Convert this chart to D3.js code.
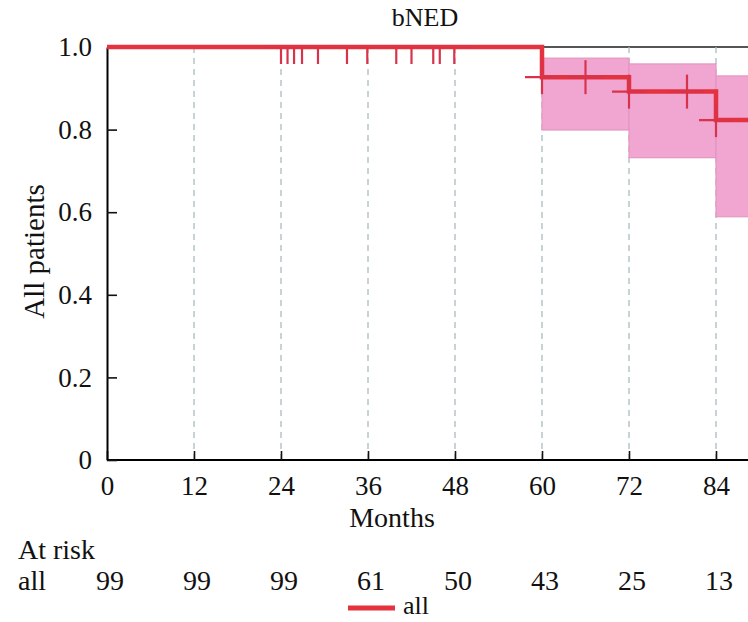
<!DOCTYPE html>
<html>
<head>
<meta charset="utf-8">
<script src="https://cdn.jsdelivr.net/npm/d3@7"></script>
<style>
  body { margin: 0; background: #fff; }
  svg text { font-family: 'Liberation Serif', 'Times New Roman', 'DejaVu Serif', serif; }
</style>
</head>
<body>
<script>
// KM curve for bNED, all patients
var stepMonths = [0, 60, 72, 84];
var stepSurv   = [1.0, 0.927, 0.892, 0.823];
var stepLower  = [1.0, 0.799, 0.732, 0.589];
var stepUpper  = [1.0, 0.973, 0.959, 0.930];
var censorMonths = [24.0, 24.9, 25.8, 26.9, 29.1, 33.1, 35.9, 39.9, 42.0, 45.0, 45.9, 47.9, 60, 66, 72, 80, 84];
var monthTicks = [0, 12, 24, 36, 48, 60, 72, 84];
var survTicks = [0, 0.2, 0.4, 0.6, 0.8, 1.0];
var atRisk = [99, 99, 99, 61, 50, 43, 25, 13];
var endMonth = 108;

var W = 748, H = 622;
var red = "#e5323f";
var serif = "'Liberation Serif', 'Times New Roman', 'DejaVu Serif', serif";

var svg = d3.select("body").append("svg")
  .attr("width", W)
  .attr("height", H);

var x = d3.scaleLinear().domain([0, 84]).range([107, 716]);
var y = d3.scaleLinear().domain([0, 1]).range([460, 47]);

svg.append("clipPath").attr("id", "plot")
  .append("rect")
  .attr("x", x(0)).attr("y", y(1))
  .attr("width", x(endMonth) - x(0)).attr("height", y(0) - y(1));

// survival at t (right-continuous)
function survAt(t) {
  var i = d3.bisectRight(stepMonths, t) - 1;
  return stepSurv[Math.max(i, 0)];
}

// frame top line
svg.append("line")
  .attr("x1", x(0)).attr("x2", x(endMonth))
  .attr("y1", y(1)).attr("y2", y(1))
  .attr("stroke", "#555").attr("stroke-width", 2);

// dashed grid
svg.selectAll("line.grid")
  .data(monthTicks.concat([96]).filter(function (d) { return d > 0; }))
  .enter().append("line")
  .attr("class", "grid")
  .attr("x1", function (d) { return x(d); })
  .attr("x2", function (d) { return x(d); })
  .attr("y1", y(1)).attr("y2", y(0))
  .attr("stroke", "#aabdbf")
  .attr("stroke-width", 1.3)
  .attr("stroke-dasharray", "6,5");

// confidence band
var bandData = stepMonths.map(function (m, i) {
  return { m0: m, m1: i < stepMonths.length - 1 ? stepMonths[i + 1] : endMonth, lo: stepLower[i], hi: stepUpper[i] };
}).filter(function (d) { return d.hi > d.lo; });

svg.selectAll("rect.band")
  .data(bandData)
  .enter().append("rect")
  .attr("class", "band")
  .attr("x", function (d) { return x(d.m0); })
  .attr("width", function (d) { return x(d.m1) - x(d.m0); })
  .attr("y", function (d) { return y(d.hi); })
  .attr("height", function (d) { return y(d.lo) - y(d.hi); })
  .attr("fill", "#f0a6d1")
  .attr("stroke", "#e596c2")
  .attr("stroke-width", 1.2);

// axes
var xAxis = d3.axisBottom(x)
  .tickValues(monthTicks)
  .tickSizeInner(-9)
  .tickSizeOuter(0)
  .tickPadding(16)
  .tickFormat(d3.format("d"));

var gx = svg.append("g")
  .attr("transform", "translate(0," + y(0) + ")")
  .call(xAxis);
gx.select(".domain").attr("d", "M" + x(0) + ",0H" + x(endMonth)).attr("stroke-width", 2);

var yAxis = d3.axisLeft(y)
  .tickValues(survTicks)
  .tickSizeInner(-10)
  .tickSizeOuter(0)
  .tickPadding(15)
  .tickFormat(function (d) { return d === 0 ? "0" : d3.format(".1f")(d); });

var gy = svg.append("g")
  .attr("transform", "translate(" + x(0) + ",0)")
  .call(yAxis);
gy.select(".domain").attr("stroke-width", 2);

svg.selectAll("g.tick line").attr("stroke", "#111").attr("stroke-width", 1.6);
gx.attr("font-family", serif);
gy.attr("font-family", serif);
svg.selectAll("g.tick text").attr("font-size", 27).attr("fill", "#111")
  .attr("font-family", serif);

// KM step curve
var curvePts = stepMonths.map(function (m, i) { return [m, stepSurv[i]]; });
curvePts.push([endMonth, stepSurv[stepSurv.length - 1]]);

svg.append("path")
  .datum(curvePts)
  .attr("fill", "none")
  .attr("stroke", red)
  .attr("stroke-width", 4.5)
  .attr("d", d3.line()
    .x(function (d) { return x(d[0]); })
    .y(function (d) { return y(d[1]); })
    .curve(d3.curveStepAfter));

// censor marks (+)
var marks = svg.append("g").attr("clip-path", "url(#plot)");
var half = 17;
var censor = marks.selectAll("g.cens")
  .data(censorMonths)
  .enter().append("g")
  .attr("class", "cens")
  .attr("transform", function (d) { return "translate(" + x(d) + "," + y(survAt(d)) + ")"; });
censor.append("line")
  .attr("x1", 0).attr("x2", 0).attr("y1", -half).attr("y2", half)
  .attr("stroke", "#d8334a").attr("stroke-width", 2.2);
censor.append("line")
  .attr("x1", -half).attr("x2", half).attr("y1", 0).attr("y2", 0)
  .attr("stroke", "#d8334a").attr("stroke-width", 2.2);

// titles
svg.append("text")
  .attr("x", 425).attr("y", 26)
  .attr("text-anchor", "middle")
  .attr("font-size", 26).attr("fill", "#111")
  .text("bNED");

svg.append("text")
  .attr("transform", "translate(44," + (y(0.5) - 2) + ") rotate(-90)")
  .attr("text-anchor", "middle")
  .attr("font-size", 29).attr("fill", "#111")
  .text("All patients");

svg.append("text")
  .attr("x", 392).attr("y", 527)
  .attr("text-anchor", "middle")
  .attr("font-size", 28).attr("fill", "#111")
  .text("Months");

// at risk table
svg.append("text")
  .attr("x", 18).attr("y", 559)
  .attr("font-size", 28).attr("fill", "#111")
  .text("At risk");

svg.append("text")
  .attr("x", 18).attr("y", 590)
  .attr("font-size", 28).attr("fill", "#111")
  .text("all");

svg.selectAll("text.risk")
  .data(atRisk)
  .enter().append("text")
  .attr("class", "risk")
  .attr("x", function (d, i) { return x(monthTicks[i]) + 3; })
  .attr("y", 590)
  .attr("text-anchor", "middle")
  .attr("font-size", 28).attr("fill", "#111")
  .text(function (d) { return d; });

// legend
svg.append("line")
  .attr("x1", 348).attr("x2", 395)
  .attr("y1", 608).attr("y2", 608)
  .attr("stroke", red).attr("stroke-width", 5);
svg.append("text")
  .attr("x", 403).attr("y", 614)
  .attr("font-size", 26).attr("fill", "#111")
  .text("all");
</script>
</body>
</html>
